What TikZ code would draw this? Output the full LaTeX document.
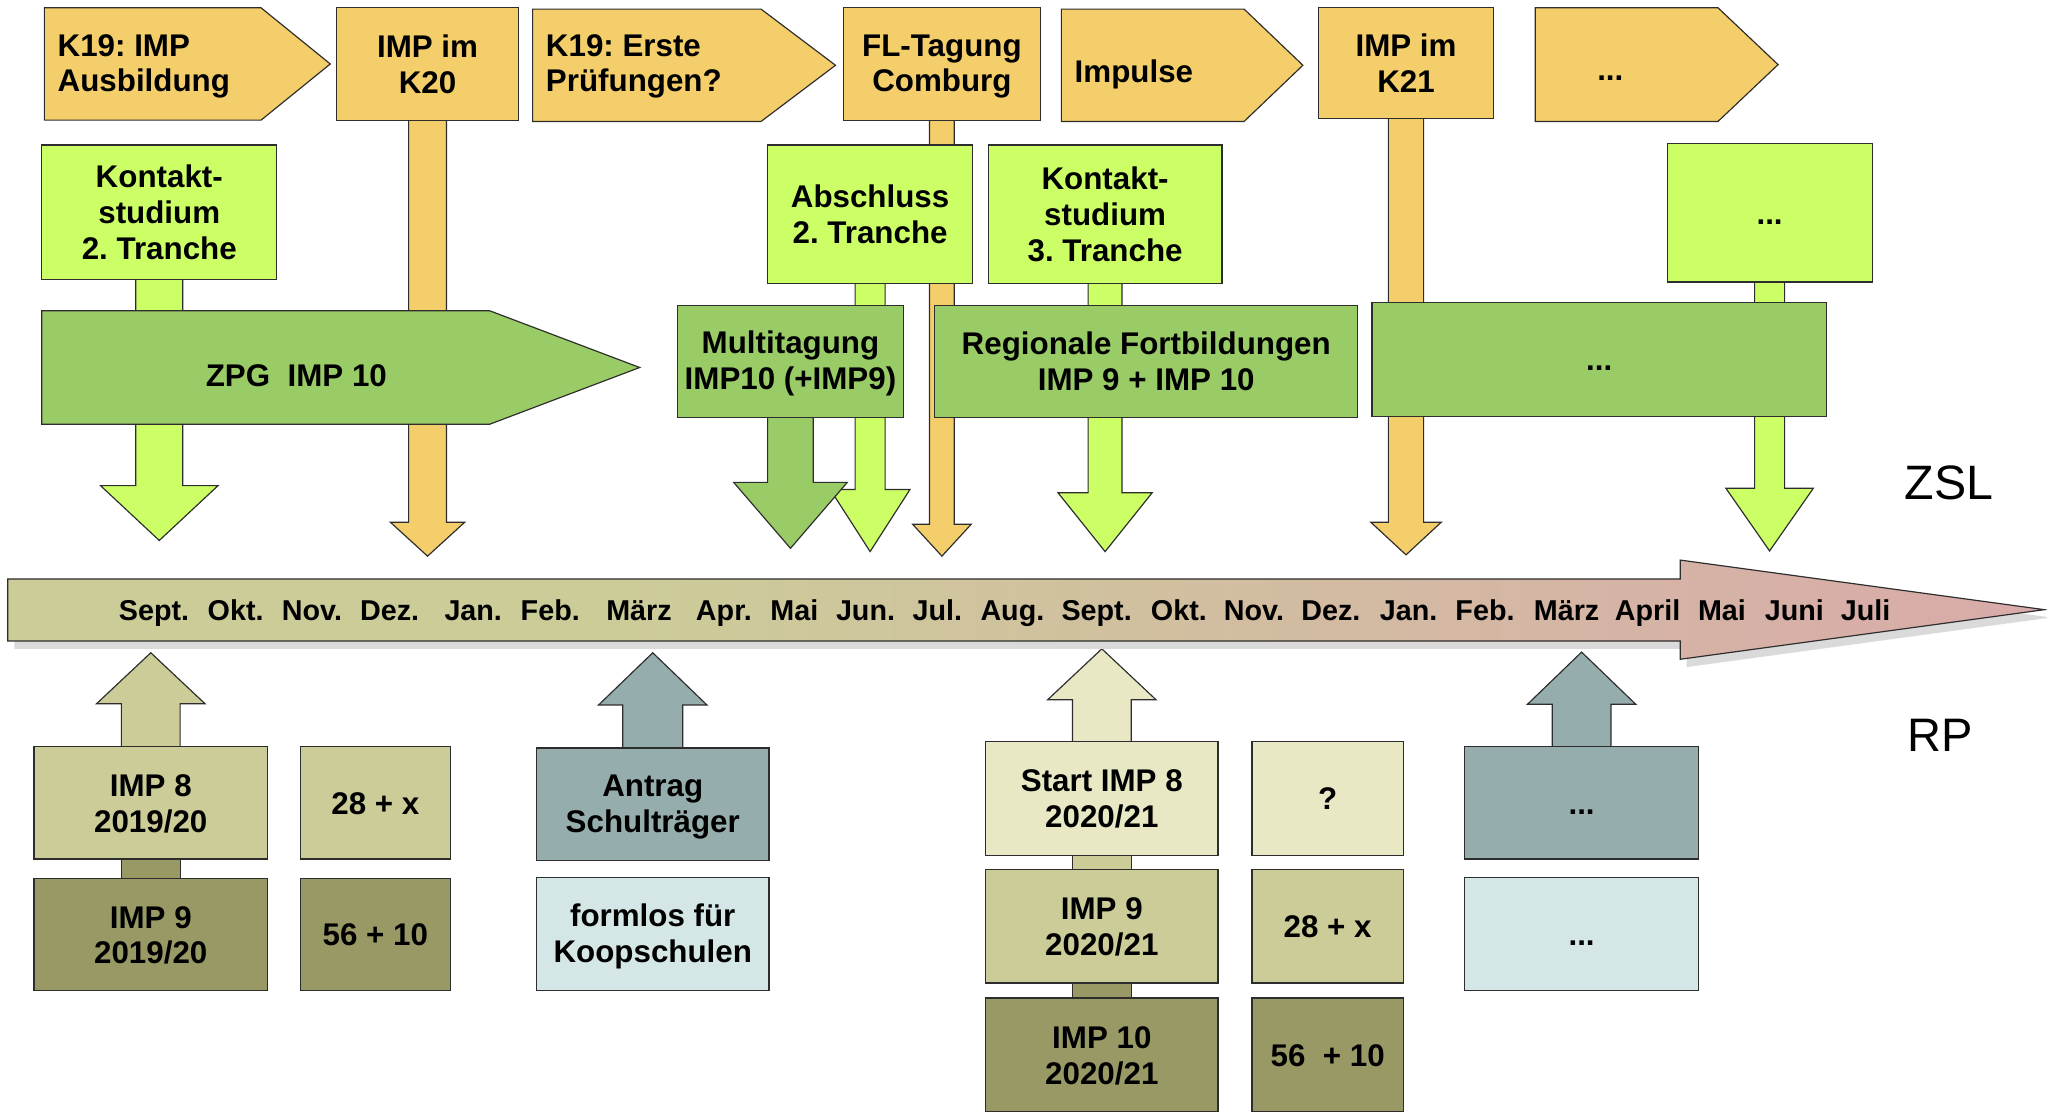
\documentclass[tikz,border=0pt]{standalone}
\usepackage{fontspec}
\setmainfont{Liberation Sans}
\usetikzlibrary{calc}
\pgfdeclarelayer{background}
\pgfsetlayers{background,main}
\definecolor{cOrange}{RGB}{243,206,106}
\definecolor{cLime}{RGB}{204,255,102}
\definecolor{cGreen}{RGB}{153,204,102}
\definecolor{cKhaki}{RGB}{204,204,153}
\definecolor{cOlive}{RGB}{153,153,102}
\definecolor{cPale}{RGB}{232,232,196}
\definecolor{cTeal}{RGB}{150,173,173}
\definecolor{cIce}{RGB}{213,230,230}
\definecolor{cTlA}{RGB}{204,204,153}
\definecolor{cTlB}{RGB}{217,170,170}
\definecolor{cLine}{RGB}{45,45,45}
\definecolor{cShadow}{RGB}{218,218,218}
\pgfdeclarehorizontalshading{tlshade}{100bp}{color(0bp)=(cTlA); color(25bp)=(cTlA); color(40bp)=(cTlA); color(75bp)=(cTlB); color(100bp)=(cTlB)}
\newcommand\mystrut{\rule[-3.2pt]{0pt}{23.6pt}}
% down block arrow: #1 fill, #2 source node, #3 tip y, #4 stem half width, #5 head half width, #6 head length
\newcommand\downblock[6]{%
  \coordinate (#2-tip) at (#2.center |- 0,#3);
  \draw[blockarrow, fill=#1] ($(#2.center)+(-#4,0)$) -- ($(#2-tip)+(-#4,-#6)$) -- ($(#2-tip)+(-#5,-#6)$) -- (#2-tip) -- ($(#2-tip)+(#5,-#6)$) -- ($(#2-tip)+(#4,-#6)$) -- ($(#2.center)+(#4,0)$) -- cycle;}
\newcommand\upblock[6]{%
  \coordinate (#2-tip) at (#2.center |- 0,#3);
  \draw[blockarrow, fill=#1] ($(#2.center)+(-#4,0)$) -- ($(#2-tip)+(-#4,#6)$) -- ($(#2-tip)+(-#5,#6)$) -- (#2-tip) -- ($(#2-tip)+(#5,#6)$) -- ($(#2-tip)+(#4,#6)$) -- ($(#2.center)+(#4,0)$) -- cycle;}
\begin{document}
\frenchspacing
\begin{tikzpicture}[x=1pt, y=-1pt,
  boxtext/.style={font=\fontsize{24}{27.5}\selectfont\bfseries, align=center, inner sep=0pt},
  box/.style={boxtext, rectangle, draw=cLine, line width=0.9pt},
  shapeline/.style={draw=cLine, line width=0.9pt, line join=miter},
  blockarrow/.style={draw=cLine, line width=0.9pt, line join=miter},
  monthtext/.style={font=\fontsize{22}{26}\selectfont\bfseries, inner sep=0pt, anchor=base}]
\useasboundingbox (0,0) rectangle (1568,852);

% ---------- top row (orange) ----------
\draw[shapeline, fill=cOrange] (34,6) -- (200,6) -- (253,49) -- (200,92) -- (34,92) -- cycle;
\node[boxtext, anchor=west, align=left] (pA) at (44,49) {\mystrut K19: IMP\\\mystrut Ausbildung};
\node[box, fill=cOrange, minimum width=139, minimum height=86] (k20) at (327.5,49) {\mystrut IMP im\\\mystrut K20};
\draw[shapeline, fill=cOrange] (408,7) -- (583,7) -- (640,50) -- (583,93) -- (408,93) -- cycle;
\node[boxtext, anchor=west, align=left] (pB) at (418,49) {\mystrut K19: Erste\\\mystrut Prüfungen?};
\node[box, fill=cOrange, minimum width=151, minimum height=86] (fl) at (721.5,49) {\mystrut FL-Tagung\\\mystrut Comburg};
\draw[shapeline, fill=cOrange] (813,7) -- (953,7) -- (998,50) -- (953,93) -- (813,93) -- cycle;
\node[boxtext, anchor=base west] (imp) at (823,63) {Impulse};
\node[box, fill=cOrange, minimum width=134, minimum height=85] (k21) at (1077,48.5) {\mystrut IMP im\\\mystrut K21};
\draw[shapeline, fill=cOrange] (1176,6) -- (1316,6) -- (1362,49.5) -- (1316,93) -- (1176,93) -- cycle;
\node[boxtext, anchor=base] (pE) at (1233.5,62) {...};

% ---------- second row (lime) ----------
\node[box, fill=cLime, minimum width=180, minimum height=103] (k2) at (122,162.5) {\mystrut Kontakt-\\\mystrut studium\\\mystrut 2. Tranche};
\node[box, fill=cLime, minimum width=157, minimum height=106] (ab) at (666.5,164) {\mystrut Abschluss\\\mystrut 2. Tranche};
\node[box, fill=cLime, minimum width=179, minimum height=106] (k3) at (846.5,164) {\mystrut Kontakt-\\\mystrut studium\\\mystrut 3. Tranche};
\node[box, fill=cLime, minimum width=157, minimum height=106] (l4) at (1355.5,163) {\mystrut ...};

% ---------- third row (green) ----------
\draw[shapeline, fill=cGreen] (32,238) -- (375,238) -- (490,281.5) -- (375,325) -- (32,325) -- cycle;
\node[boxtext, anchor=base] (zpg) at (227,296) {ZPG\ \ IMP 10};
\node[box, fill=cGreen, minimum width=173, minimum height=86] (mt) at (605.5,277) {\mystrut Multitagung\\\mystrut IMP10 (+IMP9)};
\node[box, fill=cGreen, minimum width=324, minimum height=86] (rf) at (878,277) {\mystrut Regionale Fortbildungen\\\mystrut IMP 9 + IMP 10};
\node[box, fill=cGreen, minimum width=348, minimum height=87] (g4) at (1225,275.5) {\mystrut ...};

% ---------- timeline ----------
\fill[cShadow] (11,449.5) -- (1292,449.5) -- (1292,435) -- (1571,473) -- (1292,511) -- (1292,497) -- (11,497) -- cycle;
\shadedraw[shading=tlshade, draw=cLine, line width=0.9pt, line join=miter] (6,443.5) -- (1287,443.5) -- (1287,429) -- (1566,467) -- (1287,505) -- (1287,491) -- (6,491) -- cycle;
\foreach \mx/\mname [count=\i] in {118/Sept., 180.5/Okt., 239/Nov., 298.5/Dez., 362.5/Jan., 421.5/Feb., 489.5/März, 554.5/Apr., 608.5/Mai, 663/Jun., 718/Jul., 775.5/Aug., 840/Sept., 903/Okt., 960.5/Nov., 1019.5/Dez., 1079/Jan., 1137.5/Feb., 1200/März, 1262/April, 1319/Mai, 1374.5/Juni, 1429/Juli}
  \node[monthtext] (month\i) at (\mx,475) {\mname};

\node[font=\fontsize{37}{40}\selectfont, inner sep=0pt, anchor=base west] (zsl) at (1459,382.5) {ZSL};
\node[font=\fontsize{36}{40}\selectfont, inner sep=0pt, anchor=base west] (rp) at (1461,575.5) {RP};

% ---------- bottom (RP) ----------
\node[box, fill=cKhaki, minimum width=179, minimum height=86] (imp8) at (115.5,615) {\mystrut IMP 8\\\mystrut 2019/20};
\node[box, fill=cOlive, minimum width=179, minimum height=86] (imp9a) at (115.5,716) {\mystrut IMP 9\\\mystrut 2019/20};
\node[box, fill=cKhaki, minimum width=115, minimum height=86] (n1) at (287.5,615) {\mystrut 28 + x};
\node[box, fill=cOlive, minimum width=115, minimum height=86] (n2) at (287.5,716) {\mystrut 56 + 10};
\node[box, fill=cTeal, minimum width=178, minimum height=86] (antrag) at (500,616) {\mystrut Antrag\\\mystrut Schulträger};
\node[box, fill=cIce, minimum width=178, minimum height=87] (formlos) at (500,715.5) {\mystrut formlos für\\\mystrut Koopschulen};
\node[box, fill=cPale, minimum width=178, minimum height=87] (start8) at (844,611.5) {\mystrut Start IMP 8\\\mystrut 2020/21};
\node[box, fill=cKhaki, minimum width=178, minimum height=87] (imp9b) at (844,709.5) {\mystrut IMP 9\\\mystrut 2020/21};
\node[box, fill=cOlive, minimum width=178, minimum height=87] (imp10) at (844,808) {\mystrut IMP 10\\\mystrut 2020/21};
\node[box, fill=cPale, minimum width=116, minimum height=87] (q) at (1017,611.5) {\mystrut ?};
\node[box, fill=cKhaki, minimum width=116, minimum height=87] (n3) at (1017,709.5) {\mystrut 28 + x};
\node[box, fill=cOlive, minimum width=116, minimum height=87] (n4) at (1017,808) {\mystrut 56\ \ + 10};
\node[box, fill=cTeal, minimum width=179, minimum height=86] (dots1) at (1211.5,615) {\mystrut ...};
\node[box, fill=cIce, minimum width=179, minimum height=87] (dots2) at (1211.5,715.5) {\mystrut ...};

% ---------- block arrows (behind the boxes) ----------
\begin{pgfonlayer}{background}
\downblock{cLime}{k2}{414}{18}{45}{42}
\downblock{cOrange}{k20}{426}{14.5}{28.5}{26}
\downblock{cLime}{ab}{422.5}{11.5}{30.5}{47.5}
\downblock{cOrange}{fl}{426}{9.5}{22.5}{24.5}
\downblock{cLime}{k3}{422.5}{13}{36}{45}
\downblock{cOrange}{k21}{425}{13.5}{27}{25}
\downblock{cLime}{l4}{422}{11.5}{33.5}{48}
\downblock{cGreen}{mt}{420}{17.5}{43.5}{50.5}
\upblock{cKhaki}{imp8}{500}{22.5}{41.5}{39}
\upblock{cTeal}{antrag}{500}{23}{41.5}{40}
\upblock{cPale}{start8}{497}{22.5}{41.5}{39}
\upblock{cTeal}{dots1}{499.5}{22.5}{41.5}{40}
\draw[blockarrow, fill=cOlive] ($(imp9a.center)+(-22.5,0)$) rectangle ($(imp8.center)+(22.5,0)$);
\draw[blockarrow, fill=cKhaki] ($(imp9b.center)+(-22.5,0)$) rectangle ($(start8.center)+(22.5,0)$);
\draw[blockarrow, fill=cOlive] ($(imp10.center)+(-22.5,0)$) rectangle ($(imp9b.center)+(22.5,0)$);
\end{pgfonlayer}
\end{tikzpicture}
\end{document}
